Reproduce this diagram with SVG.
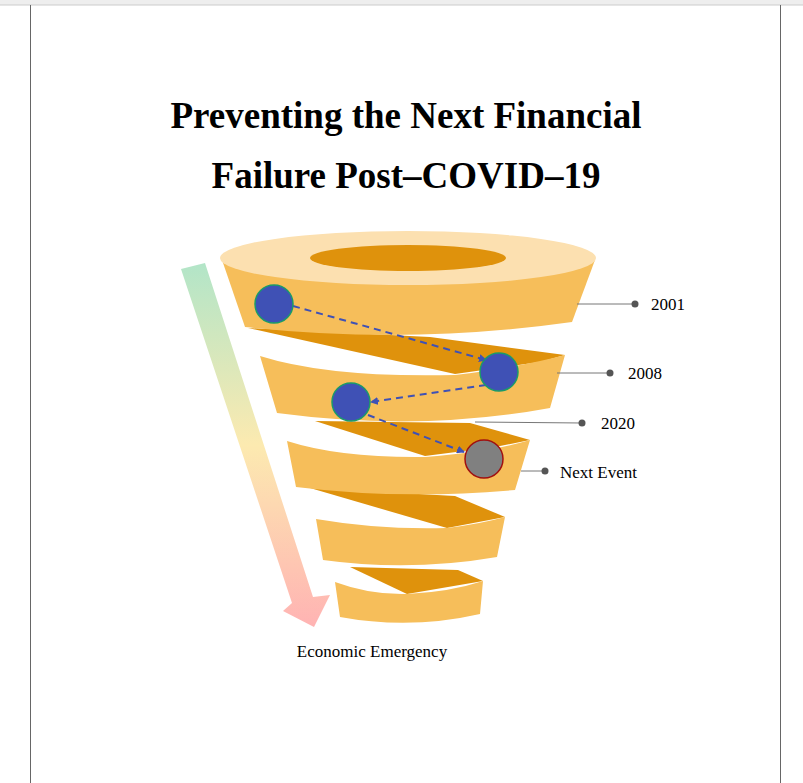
<svg xmlns="http://www.w3.org/2000/svg" width="803" height="783" viewBox="0 0 803 783">
<defs>
<linearGradient id="g" x1="0" y1="0" x2="0" y2="1"><stop offset="0" stop-color="#B2E5C8"/><stop offset="0.5" stop-color="#FCEAB0"/><stop offset="1" stop-color="#FFB3B3"/></linearGradient>
<marker id="ah" markerWidth="8" markerHeight="8" refX="7" refY="4" orient="auto" markerUnits="userSpaceOnUse"><path d="M0,0 L8,4 L0,8 z" fill="#3F51B5"/></marker>
</defs>
<style>
.band{fill:#F6BE5A}.dark{fill:#DF920C}
.node{fill:#3F51B5;stroke:#1a9a6a;stroke-width:1.5}
.dash{stroke:#3F51B5;stroke-width:2;stroke-dasharray:7,5;fill:none;marker-end:url(#ah)}
.lead{stroke:#777;stroke-width:1}
.dot{fill:#555}
.lbl{font-family:"Liberation Serif",serif;font-size:17px;fill:#000}
.title{font-family:"Liberation Serif",serif;font-size:37px;font-weight:bold;text-anchor:middle}
</style>
<rect x="0" y="0" width="803" height="5" fill="#eeeeee"/>
<line x1="0" y1="5" x2="803" y2="5" stroke="#ccc"/>
<line x1="30.5" y1="5" x2="30.5" y2="783" stroke="#666"/>
<line x1="780.5" y1="5" x2="780.5" y2="783" stroke="#666"/>
<text class="title" x="406" y="128">Preventing the Next Financial</text>
<text class="title" x="406" y="188">Failure Post–COVID–19</text>
<g id="arrow"><polygon points="181,269 205,263 313,597 330,595 314,627 283,611 292,603" fill="url(#g)"/></g>
<g id="funnel">
<polygon class="dark" points="350,567 458,570 483,581 407,594"/>
<path class="band" d="M335,582 Q370,595 407,594 Q450,592 483,581 L480,614 Q410,630 340,617 Z"/>
<polygon class="dark" points="310,488 455,496 505,517 447,528"/>
<path class="band" d="M316,519 Q380,530 447,528 Q480,524 505,517 L497,557 Q410,572 323,560 Z"/>
<polygon class="dark" points="315,421 470,423 530,440 495,447 425,456"/>
<path class="band" d="M287,441 Q340,458 425,457 Q490,452 530,440 L515,490 Q400,500 296,487 Z"/>
<polygon class="dark" points="248,328 430,337 565,355 540,362 455,374"/>
<path class="band" d="M260,356 Q330,378 455,375 Q520,367 565,355 L550,408 Q420,432 277,413 Z"/>
<path class="band" d="M221,257 L595,260 L572,322 Q410,345 245,327 Z"/>
<ellipse cx="408" cy="258" rx="188" ry="27" fill="#FCE0B0"/>
<ellipse cx="408" cy="258" rx="98" ry="13" fill="#DF920C"/>
</g>
<g id="connectors">
<line class="dash" x1="293" y1="306" x2="486" y2="360"/>
<line class="dash" x1="486" y1="385" x2="371" y2="402"/>
<line class="dash" x1="368" y1="415" x2="464" y2="452"/>
<line class="lead" x1="577" y1="304" x2="635" y2="304"/><circle class="dot" cx="635" cy="304" r="3.5"/>
<line class="lead" x1="557" y1="373" x2="610" y2="373"/><circle class="dot" cx="610" cy="373" r="3.5"/>
<line class="lead" x1="475" y1="422" x2="582" y2="423"/><circle class="dot" cx="582" cy="423" r="3.5"/>
<line class="lead" x1="521" y1="471" x2="545" y2="471"/><circle class="dot" cx="545" cy="471" r="3.5"/>
</g>
<g id="n2001"><circle class="node" cx="274" cy="304" r="19"/><text class="lbl" x="651" y="310">2001</text></g>
<g id="n2008"><circle class="node" cx="499" cy="372" r="19"/><text class="lbl" x="628" y="379">2008</text></g>
<g id="n2020"><circle class="node" cx="351" cy="402" r="19"/><text class="lbl" x="601" y="429">2020</text></g>
<g id="nnext"><circle cx="484" cy="459" r="19" fill="#808080" stroke="#A01010" stroke-width="1.5"/><text class="lbl" x="560" y="478">Next Event</text></g>
<g id="emergency"><text class="lbl" x="372" y="657" text-anchor="middle">Economic Emergency</text></g>
</svg>
